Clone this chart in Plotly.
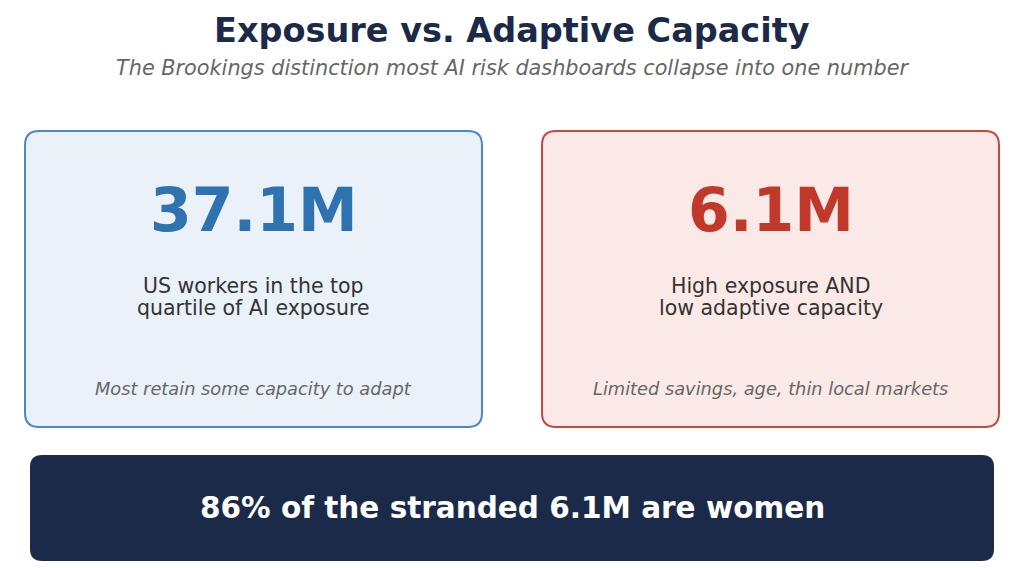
import plotly.graph_objects as go

# data
card_values = ["37.1M", "6.1M"]
card_labels = [["US workers in the top", "quartile of AI exposure"],
               ["High exposure AND", "low adaptive capacity"]]
card_notes = ["Most retain some capacity to adapt", "Limited savings, age, thin local markets"]
card_colors = ["#2E72B0", "#C0392B"]
card_fills = ["#EAF1F9", "#FBE9E7"]
card_borders = ["#4A88C7", "#C9483A"]
banner_text = "86% of the stranded 6.1M are women"
title = "Exposure vs. Adaptive Capacity"
subtitle = "The Brookings distinction most AI risk dashboards collapse into one number"

W, H = 1024, 568
FONT = "DejaVu Sans"


def rounded(x0, y0, x1, y1, r):
    return (f"M{x0+r},{y0} L{x1-r},{y0} Q{x1},{y0} {x1},{y0+r} L{x1},{y1-r} "
            f"Q{x1},{y1} {x1-r},{y1} L{x0+r},{y1} Q{x0},{y1} {x0},{y1-r} "
            f"L{x0},{y0+r} Q{x0},{y0} {x0+r},{y0} Z")


fig = go.Figure()
shapes, ann = [], []
card_x = [(25, 482), (542, 999)]
for i, (x0, x1) in enumerate(card_x):
    cx = (x0 + x1) / 2
    shapes.append(dict(type="path", path=rounded(x0, 131, x1, 427, 14),
                       fillcolor=card_fills[i], line=dict(color=card_borders[i], width=2), layer="below"))
    ann.append(dict(x=cx, y=210, text=f"<b>{card_values[i]}</b>", showarrow=False,
                    font=dict(size=60, color=card_colors[i], family=FONT)))
    for j, line in enumerate(card_labels[i]):
        ann.append(dict(x=cx, y=286 + 22 * j, text=line, showarrow=False,
                        font=dict(size=20.5, color="#333333", family=FONT)))
    ann.append(dict(x=cx, y=388, text=f"<i>{card_notes[i]}</i>", showarrow=False,
                    font=dict(size=17.8, color="#666666", family=FONT)))

shapes.append(dict(type="path", path=rounded(30, 455, 994, 561, 12),
                   fillcolor="#1C2A4A", line=dict(width=0), layer="below"))
ann.append(dict(x=512, y=508, text=f"<b>{banner_text}</b>", showarrow=False,
                font=dict(size=29.5, color="white", family=FONT)))
ann.append(dict(x=512, y=30, text=f"<b>{title}</b>", showarrow=False,
                font=dict(size=33.5, color="#1C2A4A", family=FONT)))
ann.append(dict(x=512, y=68, text=f"<i>{subtitle}</i>", showarrow=False,
                font=dict(size=20.8, color="#666666", family=FONT)))

fig.update_layout(
    width=W, height=H, margin=dict(l=0, r=0, t=0, b=0),
    plot_bgcolor="white", paper_bgcolor="white", showlegend=False,
    xaxis=dict(range=[0, W], visible=False, fixedrange=True),
    yaxis=dict(range=[H, 0], visible=False, fixedrange=True),
    shapes=shapes, annotations=ann,
)
fig.write_html("out.html", config={"displayModeBar": False},
               post_script="document.body.style.margin='0';document.body.style.overflow='hidden';")
